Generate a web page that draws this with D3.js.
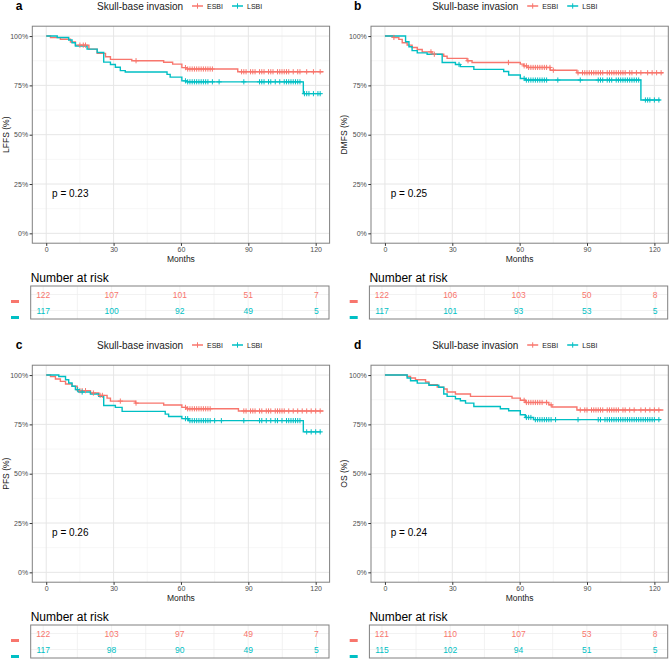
<!DOCTYPE html>
<html>
<head>
<meta charset="utf-8">
<script src="https://cdn.jsdelivr.net/npm/d3@7"></script>
<style>
  body { margin: 0; background: #fff; }
  text { font-family: "Liberation Sans", Arial, sans-serif; }
</style>
</head>
<body>
<svg id="chart" width="669" height="660"></svg>
<script>
// groups and colours
var groups = ["ESBI", "LSBI"];
var colors = ["#F8766D", "#00BFC4"];
var xTicks = [0, 30, 60, 90, 120];
var yTicks = [0, 25, 50, 75, 100];

// survival steps [months, %]
var lffsEsbi = [[0,100],[1.9,99.2],[6.3,98.4],[10.8,97],[13,95.4],[19,93.4],[22.7,91.2],[26.4,89.5],[28.6,88.2],[38.1,87.5],[52.3,86.7],[56.3,85.8],[60.4,84],[62.7,83.3],[85.3,81.9],[123.5,81.9]];
var lffsLsbi = [[0,100],[4.9,99.3],[10,98],[11.5,96.6],[13,95],[18.2,93.4],[22.7,91.7],[25.6,86.8],[28.6,85.6],[30.8,84.2],[33,82.5],[35.2,81.8],[53.8,80.6],[55.2,79.2],[60.4,77.3],[62.7,76.8],[114.5,70.8],[122.5,70.8]];
var dmfsEsbi = [[0,100],[4,99.3],[6.2,98.3],[7.7,96.6],[9.9,95.4],[12.1,94.2],[14.4,93.2],[16.6,92],[21,90.8],[26.2,89.8],[27.7,88.7],[36.6,87.5],[38.8,86.6],[60.3,85.8],[61.8,84.9],[63.2,84.1],[73.6,82.7],[85.5,81.4],[124,81.4]];
var dmfsLsbi = [[0,100],[9.2,97.1],[10.7,94.6],[12.1,92.6],[14.4,91.5],[18.8,90.8],[25.5,86.6],[31.4,85.6],[33.6,84.5],[39.6,83.1],[52.9,82],[55.1,80.3],[60.3,78.5],[62.5,77.7],[114,67.6],[122.7,67.6]];
var pfsEsbi = [[0,100],[1.9,99.3],[4.1,98],[6.3,96.8],[8.6,95.5],[11.5,94.3],[13.8,92.1],[19.7,90.9],[23.4,89.7],[27.1,88.3],[28.6,86.8],[39.7,85.8],[52.3,84.8],[60.4,83.6],[62.7,82.9],[85.6,81.8],[123.5,81.8]];
var pfsLsbi = [[0,100],[5.6,99.3],[8.6,97.6],[10,96],[11.5,94.3],[13,92.6],[14.5,91.4],[19.7,90.4],[23.4,89.2],[25.6,84.6],[30.8,83.6],[33.8,81.6],[53,80.2],[54.5,79],[60.4,77.9],[63.4,76.9],[114.5,71.2],[122.5,71.2]];
var osEsbi = [[0,100],[9.9,99.3],[11.4,98.5],[13.6,97.6],[18.1,96.5],[19.6,95.1],[23.3,93.9],[26.2,92.9],[27.7,91.4],[31.4,90.4],[38.1,89.2],[56.6,88.3],[60.3,87.2],[62.5,86.1],[73,84.9],[74.4,83.8],[85.5,82.3],[124,82.3]];
var osLsbi = [[0,100],[9.9,98.5],[11.4,97.1],[14.4,95.9],[19.6,94.8],[24,93.8],[26.2,90.4],[27.7,89.2],[31.4,88],[33.6,87],[35.9,85.8],[39.6,84.1],[51.4,82.9],[55.1,81.9],[60.3,79.9],[62.5,78.5],[66.2,77.4],[123,77.4]];

// censoring times (months)
var lffsEsbiCens = [15,16.5,17.5,40,62,63,64,65,66,67,68,69,70,71,72,73,74,87,88,89,91,92,93,95,96,97,99,100,101,103,104,105,106,107,108,110,112,113,116,119,122];
var lffsLsbiCens = [62,63,64,65,66,67,68,69,70,71,72,74,77,88,95,96,97,99,100,102,104,106,107,108,109,110,111,112,113,115,116,117,119,121,122];
var dmfsEsbiCens = [4,20.5,22,37,55,62,63,64,65,66,67,68,69,70,71,72,73.5,75,86,88,89,90,91,92,93,94,95,96,97,99,100,101,102,103,104,105,106,107,109,110,112,114,117,119,121,123];
var dmfsLsbiCens = [33,62,63,64,65,66,67,68,69,70,71,72,77,87,95,96,97,99,100,101,103,104,105,106,107,108,109,110,111,112,113,116,117,118,120,122];
var pfsEsbiCens = [15,16,17.5,21,24,25,33,40,62,63,64,65,66,67,68,69,70,71,72,73,88,89,91,92,93,95,96,98,99,100,102,103,104,105,106,108,110,112,114,116,118,120,122];
var pfsLsbiCens = [14,16,62,63,64,65,66,67,68,69,70,71,72,73,75,78,88,95,96,98,100,102,103,105,107,108,109,110,111,112,113,116,118,120,122];
var osEsbiCens = [62,63,64,65,66,67,68,69,70,72,74,87,89,90,92,93,94,95,96,97,99,100,101,102,103,104,106,107,109,111,114,116,118,120,122];
var osLsbiCens = [63,64,65,67,68,69,70,71,72,73,74,76,86,95,96,98,99,100,101,102,103,104,105,106,107,108,109,110,111,112,113,114,115,116,117,118,119,120,122];

// number at risk at 0, 30, 60, 90, 120
var lffsRisk = [[122,107,101,51,7],[117,100,92,49,5]];
var dmfsRisk = [[122,106,103,50,8],[117,101,93,53,5]];
var pfsRisk = [[122,103,97,49,7],[117,98,90,49,5]];
var osRisk = [[121,110,107,53,8],[115,102,94,51,5]];

var panelLetters = ["a", "b", "c", "d"];
var yTitles = ["LFFS (%)", "DMFS (%)", "PFS (%)", "OS (%)"];
var pLabels = ["p = 0.23", "p = 0.25", "p = 0.26", "p = 0.24"];

var panels = [
  { steps: [lffsEsbi, lffsLsbi], cens: [lffsEsbiCens, lffsLsbiCens], risk: lffsRisk },
  { steps: [dmfsEsbi, dmfsLsbi], cens: [dmfsEsbiCens, dmfsLsbiCens], risk: dmfsRisk },
  { steps: [pfsEsbi, pfsLsbi], cens: [pfsEsbiCens, pfsLsbiCens], risk: pfsRisk },
  { steps: [osEsbi, osLsbi], cens: [osEsbiCens, osLsbiCens], risk: osRisk }
];

var svg = d3.select("#chart");
svg.append("rect").attr("width", 669).attr("height", 660).attr("fill", "#fff");

var offX = [0, 338.7, 0, 338.7];
var offY = [0, 0, 339, 339];
var legendX = [97, 93.5, 97, 93.5];

function survAt(steps, t) {
  var v = steps[0][1];
  steps.forEach(function (s) { if (s[0] <= t) v = s[1]; });
  return v;
}

panels.forEach(function (p, i) {
  var g = svg.append("g").attr("transform", "translate(" + offX[i] + "," + offY[i] + ")");

  var x = d3.scaleLinear().domain([-6.2, 126.2]).range([32.3, 329.6]);
  var y = d3.scaleLinear().domain([-5, 105]).range([243.2, 26.2]);

  // panel letter
  g.append("text").attr("x", 19).attr("y", 10).attr("text-anchor", "middle")
    .attr("font-size", 12).attr("font-weight", "bold").attr("fill", "#000")
    .text(panelLetters[i]);

  // legend
  var lg = g.append("g").attr("transform", "translate(" + legendX[i] + ",0)");
  lg.append("text").attr("x", 0).attr("y", 9.5).attr("font-size", 10).attr("fill", "#1a1a1a")
    .text("Skull-base invasion");
  groups.forEach(function (name, k) {
    var kx = 95 + k * 40;
    lg.append("line").attr("x1", kx).attr("x2", kx + 11).attr("y1", 6).attr("y2", 6)
      .attr("stroke", colors[k]).attr("stroke-width", 1.5);
    lg.append("line").attr("x1", kx + 5.5).attr("x2", kx + 5.5).attr("y1", 3.3).attr("y2", 8.7)
      .attr("stroke", colors[k]).attr("stroke-width", 1);
    lg.append("text").attr("x", kx + 15).attr("y", 8.6).attr("font-size", 7).attr("fill", "#1a1a1a")
      .text(name);
  });

  // grid
  var minorX = [15, 45, 75, 105];
  var minorY = [12.5, 37.5, 62.5, 87.5];
  g.selectAll(".mx").data(minorX).enter().append("line")
    .attr("x1", function (d) { return x(d); }).attr("x2", function (d) { return x(d); })
    .attr("y1", y.range()[1]).attr("y2", y.range()[0])
    .attr("stroke", "#f0f0f0").attr("stroke-width", 0.6);
  g.selectAll(".my").data(minorY).enter().append("line")
    .attr("y1", function (d) { return y(d); }).attr("y2", function (d) { return y(d); })
    .attr("x1", x.range()[0]).attr("x2", x.range()[1])
    .attr("stroke", "#f0f0f0").attr("stroke-width", 0.6);
  g.selectAll(".gx").data(xTicks).enter().append("line")
    .attr("x1", function (d) { return x(d); }).attr("x2", function (d) { return x(d); })
    .attr("y1", y.range()[1]).attr("y2", y.range()[0])
    .attr("stroke", "#e6e6e6").attr("stroke-width", 1);
  g.selectAll(".gy").data(yTicks).enter().append("line")
    .attr("y1", function (d) { return y(d); }).attr("y2", function (d) { return y(d); })
    .attr("x1", x.range()[0]).attr("x2", x.range()[1])
    .attr("stroke", "#e6e6e6").attr("stroke-width", 1);

  // curves
  var line = d3.line().x(function (d) { return x(d[0]); }).y(function (d) { return y(d[1]); })
    .curve(d3.curveStepAfter);
  p.steps.forEach(function (s, k) {
    g.append("path").attr("d", line(s)).attr("fill", "none")
      .attr("stroke", colors[k]).attr("stroke-width", 1.4);
  });
  p.cens.forEach(function (c, k) {
    var cg = g.append("g");
    c.forEach(function (t) {
      var cx = x(t), cy = y(survAt(p.steps[k], t));
      cg.append("line").attr("x1", cx).attr("x2", cx).attr("y1", cy - 2.6).attr("y2", cy + 2.6)
        .attr("stroke", colors[k]).attr("stroke-width", 1);
      cg.append("line").attr("x1", cx - 2.6).attr("x2", cx + 2.6).attr("y1", cy).attr("y2", cy)
        .attr("stroke", colors[k]).attr("stroke-width", 1);
    });
  });

  // border
  g.append("rect").attr("x", x.range()[0]).attr("y", y.range()[1])
    .attr("width", x.range()[1] - x.range()[0]).attr("height", y.range()[0] - y.range()[1])
    .attr("fill", "none").attr("stroke", "#808080").attr("stroke-width", 1);

  // axes
  var ax = g.append("g").attr("transform", "translate(0," + y.range()[0] + ")")
    .call(d3.axisBottom(x).tickValues(xTicks).tickSize(2.7).tickPadding(1.5));
  var ay = g.append("g").attr("transform", "translate(" + x.range()[0] + ",0)")
    .call(d3.axisLeft(y).tickValues(yTicks).tickSize(2.7).tickPadding(1.5)
      .tickFormat(function (d) { return d + "%"; }));
  [ax, ay].forEach(function (a) {
    a.select(".domain").remove();
    a.selectAll(".tick line").attr("stroke", "#333");
    a.selectAll(".tick text").attr("fill", "#4d4d4d").attr("font-size", 7)
      .attr("font-family", "Liberation Sans, Arial, sans-serif");
  });

  g.append("text").attr("x", (x.range()[0] + x.range()[1]) / 2).attr("y", 262)
    .attr("text-anchor", "middle").attr("font-size", 8.5).attr("fill", "#1a1a1a").text("Months");
  g.append("text").attr("transform", "translate(8.5," + (y.range()[0] + y.range()[1]) / 2 + ") rotate(-90)")
    .attr("text-anchor", "middle").attr("font-size", 8.5).attr("fill", "#1a1a1a").text(yTitles[i]);

  g.append("text").attr("x", x(2.6)).attr("y", y(20) + 3.6).attr("font-size", 10)
    .attr("fill", "#000").text(pLabels[i]);

  // risk table
  var tx = d3.scaleLinear().domain([-5.5, 125.5]).range([30.7, 329]);
  var ty = d3.scalePoint().domain([0, 1]).range([294.5, 310.5]);
  g.append("text").attr("x", 30.7).attr("y", 281.5).attr("font-size", 12).attr("fill", "#000")
    .text("Number at risk");
  g.selectAll(".tg").data(xTicks.concat(minorX)).enter().append("line")
    .attr("x1", function (d) { return tx(d); }).attr("x2", function (d) { return tx(d); })
    .attr("y1", 286).attr("y2", 319).attr("stroke", "#ececec").attr("stroke-width", 0.7);
  [0, 1].forEach(function (k) {
    g.append("line").attr("x1", 30.7).attr("x2", 329).attr("y1", ty(k)).attr("y2", ty(k))
      .attr("stroke", "#ececec").attr("stroke-width", 0.7);
  });
  g.append("rect").attr("x", 30.7).attr("y", 286).attr("width", 329 - 30.7).attr("height", 33)
    .attr("fill", "none").attr("stroke", "#808080").attr("stroke-width", 1);
  p.risk.forEach(function (row, k) {
    g.selectAll(".r" + k).data(row).enter().append("text")
      .attr("x", function (d, j) { return tx(xTicks[j]); })
      .attr("y", ty(k) + 3)
      .attr("text-anchor", "middle").attr("font-size", 8.5).attr("fill", colors[k])
      .text(function (d) { return d; });
    g.append("rect").attr("x", 11).attr("y", ty(k) + 5.5).attr("width", 8).attr("height", 3)
      .attr("fill", colors[k]);
  });
});
</script>
</body>
</html>
